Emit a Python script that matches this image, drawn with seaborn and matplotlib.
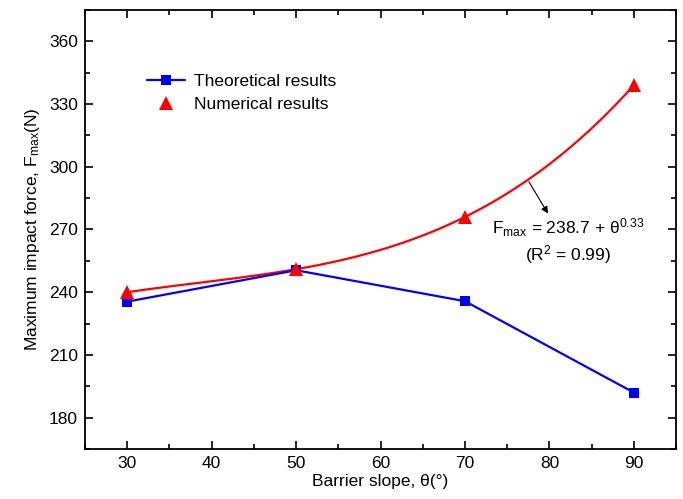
import numpy as np
import pandas as pd
import matplotlib
matplotlib.use('Agg')
import matplotlib.pyplot as plt
from matplotlib.ticker import MultipleLocator
import seaborn as sns

sns.set_theme(style='ticks')
plt.rcParams['font.family'] = ['Liberation Sans', 'DejaVu Sans']
plt.rcParams['mathtext.default'] = 'regular'
plt.rcParams['text.color'] = 'black'
plt.rcParams['axes.labelcolor'] = 'black'

# ===== DATA =====
slope = [30, 50, 70, 90]
theoretical = [235.5, 250.5, 235.7, 192.0]
numerical = [240.0, 251.0, 276.0, 339.0]

df = pd.DataFrame({'slope': slope, 'theoretical': theoretical, 'numerical': numerical})

# fitted curve through numerical results
coef = np.polyfit(df['slope'], df['numerical'], 3)
fit_x = np.linspace(30, 90, 200)
fit = pd.DataFrame({'slope': fit_x, 'fit': np.polyval(coef, fit_x)})

fig = plt.figure(figsize=(6.83, 4.99), dpi=100)
ax = fig.add_axes([0.1245, 0.1002, 0.8653, 0.8798])

sns.lineplot(data=fit, x='slope', y='fit', color='red', linewidth=1.6, ax=ax, legend=False)
sns.lineplot(data=df, x='slope', y='theoretical', color='blue', linewidth=1.6,
             marker='s', markersize=7, markeredgewidth=0, ax=ax, label='Theoretical results')
ax.plot(df['slope'], df['numerical'], linestyle='none', marker='^', color='red',
        markersize=10, markeredgewidth=0, label='Numerical results')

ax.set_xlim(25, 95)
ax.set_ylim(165, 375)
ax.xaxis.set_major_locator(MultipleLocator(10))
ax.xaxis.set_minor_locator(MultipleLocator(5))
ax.yaxis.set_major_locator(MultipleLocator(30))
ax.yaxis.set_minor_locator(MultipleLocator(15))
ax.tick_params(which='both', direction='in', top=True, right=True, width=1.2, colors='black',
               labelsize=12.5)
ax.tick_params(which='major', length=6, pad=5)
ax.tick_params(which='minor', length=3.5)
for s in ax.spines.values():
    s.set_linewidth(1.3)
    s.set_color('black')

ax.set_xlabel('Barrier slope, θ(°)', fontsize=12.5, labelpad=2)
ax.set_ylabel('Maximum impact force, F$_{max}$(N)', fontsize=12.5, labelpad=5)

ax.annotate('', xy=(80.0, 276.5), xytext=(77.4, 294.0),
            arrowprops=dict(arrowstyle='-|>', color='black', lw=0.8, mutation_scale=10))
ax.text(82.2, 264.5, 'F$_{max}$ = 238.7 + θ$^{0.33}$\n(R$^2$ = 0.99)', ha='center', va='center',
        fontsize=12.5, linespacing=1.25)

leg = ax.legend(loc='upper left', bbox_to_anchor=(0.09, 0.875), frameon=False, fontsize=12.5,
                handlelength=2.2, handletextpad=0.5, borderpad=0, labelspacing=0.45)

plt.savefig('out.png', dpi=100)
plt.close()
